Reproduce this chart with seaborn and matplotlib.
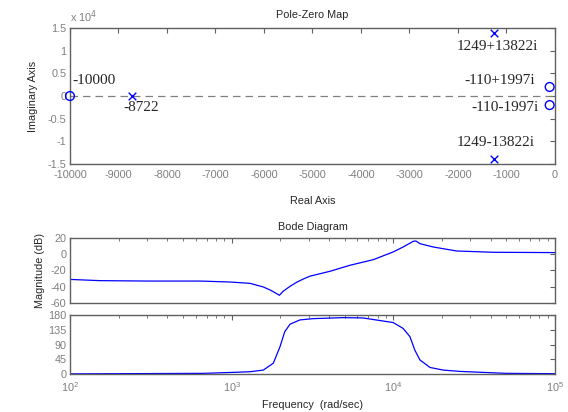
import numpy as np
import pandas as pd
import matplotlib
matplotlib.use("Agg")
import matplotlib.pyplot as plt
import matplotlib.ticker as mticker
import seaborn as sns

# pole / zero locations
zero_re = [-10000, -110, -110]
zero_im = [0, 1997, -1997]
pole_re = [-8722, -1249, -1249]
pole_im = [0, 13822, -13822]

pz_labels = ["-10000", "-8722", "1249+13822i", "-110+1997i", "-110-1997i", "1249-13822i"]
pz_label_x = [-9950, -8900, -345, -413, -345, -413]
pz_label_y = [3500, -2500, 10880, 3400, -2540, -10300]
pz_label_ha = ["left", "left", "right", "right", "right", "right"]

# bode data
freq_mag = [100, 153, 300, 637, 976, 1297, 1570, 1750, 1974, 2085, 2297, 2524, 2774,
            3050, 4055, 5390, 7520, 9980, 11500, 13270, 13800, 14600, 17670, 24600,
            41500, 100000]
mag_db = [-31, -32.5, -33, -33, -34.2, -35.8, -40.3, -44.5, -50.5, -45.5, -39.5, -34.5, -30.5,
          -27, -21, -13.6, -6.7, 2.8, 8.9, 15.9, 16.3, 13, 8.9, 4,
          2.4, 2]

freq_ph = [100, 668, 1020, 1300, 1570, 1810, 1990, 2130, 2297, 2643, 3200, 4900,
           6500, 9980, 11500, 12670, 13580, 14600, 16850, 20370, 25700, 50000, 100000]
phase_deg = [0.5, 2, 5, 7, 12, 33, 83, 129, 152, 165, 169, 172,
             171, 157, 139, 114, 73, 43, 20, 12, 8, 2, 1]

sns.set_style("white")
plt.rcParams['font.family'] = ['Liberation Sans', 'DejaVu Sans']
plt.rcParams['font.size'] = 7.8
plt.rcParams['axes.unicode_minus'] = False

spine_col = "#606060"
tick_col = "#7f7f7f"
blue = "#0000ff"


def matlab_axes(ax):
    for s in ax.spines.values():
        s.set_color(spine_col)
        s.set_linewidth(1.0)
    ax.tick_params(which="both", direction="in", top=True, right=True,
                   colors=spine_col, labelcolor=tick_col, labelsize=7.8)
    ax.tick_params(axis="y", pad=2.5)
    ax.tick_params(axis="x", pad=4.5)
    ax.tick_params(which="major", length=3.5)
    ax.tick_params(which="minor", length=2)


fig = plt.figure(figsize=(5.68, 4.12), dpi=100)

# ---- pole-zero map
ax1 = fig.add_axes([0.1232, 0.6019, 0.8539, 0.3301])
ax1.axhline(0, color="#808080", lw=0.9, ls=(0, (6, 4)), zorder=1)
sns.scatterplot(x=zero_re, y=zero_im, ax=ax1, marker="o", s=40,
                facecolors="none", edgecolor=blue, linewidth=1.0, zorder=3,
                clip_on=False)
sns.scatterplot(x=pole_re, y=pole_im, ax=ax1, marker="x", s=30,
                color=blue, linewidth=1.0, zorder=3, clip_on=False)
for t, x, y, ha in zip(pz_labels, pz_label_x, pz_label_y, pz_label_ha):
    ax1.text(x, y, t, ha=ha, va="center", fontsize=11,
             family=["Liberation Serif", "DejaVu Serif"])
ax1.set_xlim(-10000, 0)
ax1.set_ylim(-15000, 15000)
ax1.set_xticks(np.arange(-10000, 1, 1000))
ax1.set_yticks(np.arange(-15000, 15001, 5000))
ax1.yaxis.set_major_formatter(mticker.FuncFormatter(lambda v, p: "%g" % (v / 1e4)))
ax1.text(0, 1.02, "x 10$^4$", transform=ax1.transAxes, color=tick_col,
         fontsize=7.8, ha="left", va="bottom")
ax1.set_title("Pole-Zero Map", fontsize=7.8, pad=7)
ax1.set_xlabel("Real Axis", fontsize=7.8, labelpad=11)
ax1.set_ylabel("Imaginary Axis", fontsize=7.8, labelpad=7)
matlab_axes(ax1)

# ---- bode magnitude
ax2 = fig.add_axes([0.1232, 0.2646, 0.8539, 0.1578])
mag_df = pd.DataFrame({"freq": freq_mag, "mag": mag_db})
sns.lineplot(data=mag_df, x="freq", y="mag", ax=ax2, color=blue, lw=0.9,
             estimator=None)
ax2.set_xscale("log")
ax2.set_xlim(1e2, 1e5)
ax2.set_ylim(-60, 20)
ax2.set_yticks([-60, -40, -20, 0, 20])
ax2.set_xlabel("")
ax2.set_ylabel("Magnitude (dB)", fontsize=7.8, labelpad=4)
ax2.set_title("Bode Diagram", fontsize=7.8, pad=6)
matlab_axes(ax2)
ax2.tick_params(axis="x", which="both", labelbottom=False)

# ---- bode phase
ax3 = fig.add_axes([0.1232, 0.0922, 0.8539, 0.1432])
ph_df = pd.DataFrame({"freq": freq_ph, "phase": phase_deg})
sns.lineplot(data=ph_df, x="freq", y="phase", ax=ax3, color=blue, lw=0.9,
             estimator=None)
ax3.set_xscale("log")
ax3.set_xlim(1e2, 1e5)
ax3.set_ylim(0, 180)
ax3.set_yticks([0, 45, 90, 135, 180])
ax3.set_ylabel("")
ax3.set_xlabel("Frequency  (rad/sec)", fontsize=7.8, labelpad=4)
matlab_axes(ax3)

fig.savefig("out.png", dpi=100)
